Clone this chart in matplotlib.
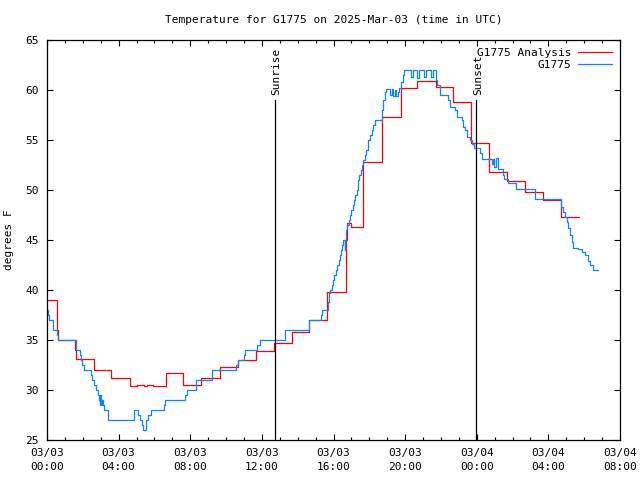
import matplotlib
matplotlib.use('Agg')
import matplotlib.pyplot as plt
import numpy as np

# hours since 2025-03-03 00:00 UTC, temperature in F
analysis_hours = [0, 0.55, 0.62, 1.55, 1.62, 2.6, 3.6, 4.64, 5.0, 5.4, 5.6, 5.9,
                  6.65, 7.58, 8.6, 9.65, 10.65, 11.67, 12.68, 13.66, 14.63, 15.62,
                  16.7, 16.75, 17.0, 17.65, 18.69, 19.75, 20.66, 21.7, 22.65, 23.7,
                  24.7, 25.7, 26.7, 27.7, 28.7, 29.7]
analysis_temp = [39.0, 36.0, 35.0, 34.0, 33.1, 32.0, 31.2, 30.4, 30.5, 30.4, 30.5, 30.4,
                 31.7, 30.5, 31.2, 32.3, 33.0, 33.9, 34.7, 35.8, 37.0, 39.8,
                 45.0, 46.7, 46.3, 52.8, 57.3, 60.2, 60.9, 60.3, 58.8, 54.7,
                 51.8, 50.9, 49.8, 49.0, 47.3, 47.3]

obs_hours = [0, 0.04, 0.11, 0.34, 0.56, 0.63, 1.60, 1.83, 1.90, 1.97, 2.08, 2.44,
             2.50, 2.64, 2.72, 2.83, 2.89, 2.94, 2.98, 3.02, 3.07, 3.13, 3.18, 3.42,
             4.88, 5.10, 5.19, 5.29, 5.38, 5.51, 5.62, 5.81, 6.53, 6.61, 7.72, 7.82,
             8.34, 9.23, 10.56, 10.68, 11.02, 11.06, 11.74, 11.90, 13.29, 14.63,
             15.29, 15.34, 15.69, 15.77, 15.80, 15.90, 15.96, 16.03, 16.12, 16.21,
             16.31, 16.36, 16.42, 16.49, 16.55, 16.63, 16.66, 16.70, 16.77, 16.88,
             16.92, 16.98, 17.07, 17.15, 17.22, 17.30, 17.35, 17.39, 17.44, 17.52,
             17.59, 17.66, 17.74, 17.82, 17.94, 18.04, 18.13, 18.22, 18.32, 18.69,
             18.78, 18.88, 18.93, 19.16, 19.25, 19.34, 19.44, 19.49, 19.60, 19.67,
             19.75, 19.86, 19.94, 20.31, 20.46, 20.65, 20.76, 21.04, 21.15, 21.43,
             21.54, 21.72, 21.80, 21.95, 22.41, 22.51, 22.79, 22.88, 23.16, 23.25,
             23.34, 23.44, 23.62, 23.72, 23.85, 24.18, 24.28, 24.83, 24.91, 24.99,
             25.05, 25.17, 25.48, 25.52, 25.76, 26.19, 27.28, 28.71, 28.82, 28.93,
             29.02, 29.11, 29.21, 29.30, 29.40, 29.67, 29.86, 30.05, 30.23, 30.35,
             30.48, 30.79]
obs_temp = [38.0, 37.5, 37.0, 36.0, 35.5, 35.0, 34.0, 33.5, 33.0, 32.5, 32.0, 31.5,
            31.0, 30.5, 30.0, 29.5, 29.0, 28.5, 29.5, 28.5, 29.0, 28.5, 28.0, 27.0,
            28.0, 27.5, 27.0, 26.5, 26.0, 27.0, 27.5, 28.0, 28.5, 29.0, 29.5, 30.0,
            31.0, 32.0, 32.5, 33.0, 33.5, 34.0, 34.5, 35.0, 36.0, 37.0,
            37.5, 38.0, 38.8, 39.7, 40.0, 40.5, 41.0, 41.5, 42.0, 42.5,
            43.0, 43.5, 44.0, 44.5, 45.0, 44.0, 45.0, 46.0, 46.5, 47.0,
            47.5, 48.0, 48.5, 49.0, 49.5, 50.0, 50.5, 51.0, 51.5, 52.0,
            52.5, 53.0, 53.5, 54.0, 55.0, 55.5, 56.0, 56.5, 57.0, 58.0,
            59.0, 59.8, 60.1, 59.5, 60.1, 59.4, 60.0, 59.4, 59.8, 60.2,
            60.8, 61.5, 62.0, 61.3, 62.0, 61.2, 62.0, 61.3, 62.0, 61.3,
            62.0, 61.0, 60.5, 59.5, 59.0, 58.3, 58.0, 57.3, 57.0, 56.3,
            56.0, 55.3, 55.0, 54.6, 54.2, 53.7, 53.1, 52.6, 53.1, 52.3,
            53.2, 52.1, 51.5, 51.1, 50.7, 50.1, 49.1, 48.3, 47.8, 47.3,
            46.8, 46.2, 45.5, 44.8, 44.2, 44.1, 43.8, 43.5, 42.9, 42.5,
            42.0, 42.0]

sunrise_hour = 12.73
sunset_hour = 23.96
x_ticks = [0, 4, 8, 12, 16, 20, 24, 28, 32]
x_labels = ['03/03\n00:00', '03/03\n04:00', '03/03\n08:00', '03/03\n12:00',
            '03/03\n16:00', '03/03\n20:00', '03/04\n00:00', '03/04\n04:00',
            '03/04\n08:00']

plt.rcParams['font.family'] = ['DejaVu Sans Mono']
plt.rcParams['font.size'] = 8

fig = plt.figure(figsize=(6.4, 4.8), dpi=100)
ax = fig.add_axes([47 / 640, 40 / 480, 573 / 640, 400 / 480])

ax.plot(analysis_hours, analysis_temp, drawstyle='steps-post', color='#ff0000',
        lw=0.9, label='G1775 Analysis')
ax.plot(obs_hours, obs_temp, drawstyle='steps-post', color='#0a84ff',
        lw=0.9, label='G1775')

for h, name in [(sunrise_hour, 'Sunrise'), (sunset_hour, 'Sunset')]:
    ax.plot([h, h], [25, 59], color='black', lw=0.9)
    ax.text(h + 0.1, 59.5, name, rotation=90, ha='center', va='bottom', fontsize=8)

ax.set_xlim(0, 32)
ax.set_ylim(25, 65)
ax.set_xticks(x_ticks)
ax.set_xticklabels(x_labels, linespacing=1.5)
ax.set_xticks(np.arange(0, 33, 1), minor=True)
ax.set_yticks(np.arange(25, 66, 5))
ax.tick_params(which='both', direction='in', top=True, right=True, width=0.8)
ax.tick_params(which='major', length=4.5, pad=6)
ax.tick_params(which='minor', length=2.2)
for s in ax.spines.values():
    s.set_linewidth(0.9)

ax.set_ylabel('degrees F', labelpad=8)
ax.set_title('Temperature for G1775 on 2025-Mar-03 (time in UTC)', fontsize=8, pad=12)

ax.legend(loc='upper right', frameon=False, markerfirst=False, handlelength=3.0,
          borderaxespad=0.35, labelspacing=0.15, handletextpad=0.6)

fig.savefig('out.png', dpi=100)
